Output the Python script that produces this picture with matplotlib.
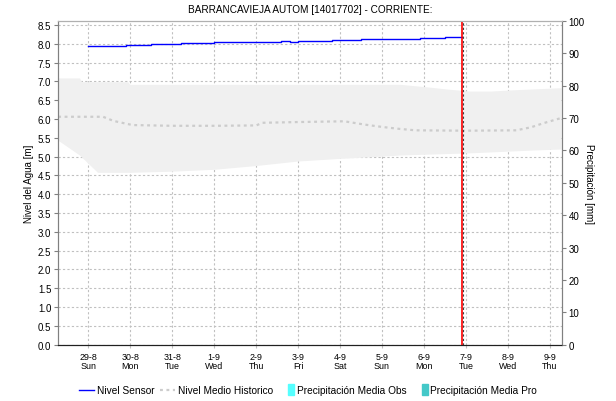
import matplotlib
matplotlib.use("Agg")
from matplotlib import pyplot as plt
from matplotlib.lines import Line2D
from matplotlib.patches import Patch, Rectangle
from matplotlib.legend_handler import HandlerPatch

plt.rcParams["font.family"] = ["Liberation Sans", "DejaVu Sans"]

# day offsets from 29-8 00:00
day_labels = ["29-8\nSun", "30-8\nMon", "31-8\nTue", "1-9\nWed", "2-9\nThu", "3-9\nFri",
              "4-9\nSat", "5-9\nSun", "6-9\nMon", "7-9\nTue", "8-9\nWed", "9-9\nThu"]

sensor_t = [0.0, 0.28, 0.30, 0.9, 1.0, 1.5, 2.2, 2.6, 3.0, 3.1, 3.5, 3.9, 4.1, 4.3, 4.6, 4.8,
            5.0, 5.3, 5.5, 5.8, 6.1, 6.2, 6.5, 7.0, 7.5, 7.9, 8.3, 8.5, 8.6, 8.91]
sensor_v = [7.93, 7.93, 7.95, 7.96, 7.975, 7.995, 8.01, 8.02, 8.035, 8.04, 8.045, 8.055, 8.05,
            8.06, 8.065, 8.06, 8.075, 8.08, 8.075, 8.09, 8.10, 8.11, 8.12, 8.14, 8.14, 8.15,
            8.16, 8.18, 8.19, 8.19]

band_hi_t = [-0.72, -0.2, -0.15, 0.95, 1.0, 7.44, 8.1, 8.6, 9.1, 9.6, 10.07, 11.28]
band_hi_v = [7.08, 7.08, 6.98, 6.98, 6.91, 6.91, 6.84, 6.78, 6.73, 6.73, 6.76, 6.82]

band_lo_t = [-0.72, -0.2, 0.23, 1.0, 2.0, 3.0, 4.0, 5.0, 6.0, 7.0, 7.44, 8.0, 8.9, 9.36, 10.55, 11.28]
band_lo_v = [5.43, 5.03, 4.57, 4.57, 4.60, 4.65, 4.75, 4.87, 4.94, 5.00, 5.03, 5.05, 5.08, 5.10, 5.16, 5.19]

mean_t = [-0.72, 0.35, 0.6, 1.05, 2.0, 3.0, 4.0, 4.15, 5.0, 6.1, 6.6, 7.0, 7.4, 7.8, 9.0,
          10.2, 10.55, 10.85, 11.28]
mean_v = [6.06, 6.06, 5.95, 5.84, 5.82, 5.82, 5.83, 5.90, 5.92, 5.94, 5.85, 5.79, 5.74, 5.70,
          5.69, 5.70, 5.78, 5.89, 6.03]

now_t = 8.915


def narrow_box(legend, orig_handle, xdescent, ydescent, width, height, fontsize):
    w = 4.5
    return Rectangle((width - xdescent - w, -ydescent - 1.5), w, height + 3)


fig = plt.figure(figsize=(6.16, 4.02), dpi=100)
ax = fig.add_axes([0.0946, 0.14, 0.8172, 0.806])
ax2 = ax.twinx()

ax.fill(band_hi_t + band_lo_t[::-1], band_hi_v + band_lo_v[::-1], color="#f0f0f0", lw=0, zorder=1)
ax.plot(mean_t, mean_v, color="#cccccc", lw=1.6, linestyle=(0, (1.3, 1.6)), zorder=2)
ax.plot(sensor_t, sensor_v, color="#0000ff", lw=1, drawstyle="steps-post", zorder=3)
ax.axvline(now_t, color="#ff0000", lw=1.2, zorder=4)
ax.axvline(now_t + 0.025, color="#404040", lw=0.8, linestyle=(0, (2, 2)), zorder=5)

ax.set_xlim(-0.717, 11.283)
ax.set_ylim(0, 8.614)
ax2.set_ylim(0, 100)
ax.set_xticks(range(len(day_labels)))
ax.set_xticklabels(day_labels, fontsize=6.4, linespacing=1.05)
ax.set_yticks([i * 0.5 for i in range(18)])
ax.set_yticklabels(["%.1f" % (i * 0.5) for i in range(18)], fontsize=7)
ax2.set_yticks(range(0, 101, 10))
ax2.tick_params(axis="y", labelsize=7, length=3, color="#808080", pad=2)
ax.tick_params(axis="y", length=3, color="#808080", pad=2)
ax.tick_params(axis="x", length=2, color="#c0c0c0", pad=3)
ax.grid(True, color="#c0c0c0", lw=0.8, linestyle=(0, (2, 2)))
ax.set_axisbelow(True)

for a in (ax, ax2):
    a.spines["left"].set_color("#808080")
    a.spines["right"].set_color("#808080")
    a.spines["top"].set_color("#b0b0b0")
    a.spines["bottom"].set_color("#202020")
    a.spines["bottom"].set_linestyle((0, (1, 1)))

ax.set_ylabel("Nivel del Agua [m]", fontsize=7, labelpad=3)
ax2.set_ylabel("Precipitación [mm]", fontsize=7, rotation=270, labelpad=7)
ax.set_title("BARRANCAVIEJA AUTOM [14017702] - CORRIENTE:", fontsize=7.2, pad=6)

handles = [Line2D([], [], color="#0000ff", lw=1),
           Line2D([], [], color="#cccccc", lw=1.6, linestyle=(0, (1.3, 1.6))),
           Patch(color="#55ffff"), Patch(color="#44c8c8")]
labels = ["Nivel Sensor", "Nivel Medio Historico", "Precipitación Media Obs", "Precipitación Media Pro"]
fig.legend(handles, labels, loc="center", bbox_to_anchor=(0.5, 0.027), ncol=4, frameon=False,
           fontsize=7.3, handlelength=1.5, handletextpad=0.25, columnspacing=0.6,
           handler_map={Patch: HandlerPatch(patch_func=narrow_box)})

fig.savefig("out.png", dpi=100)
